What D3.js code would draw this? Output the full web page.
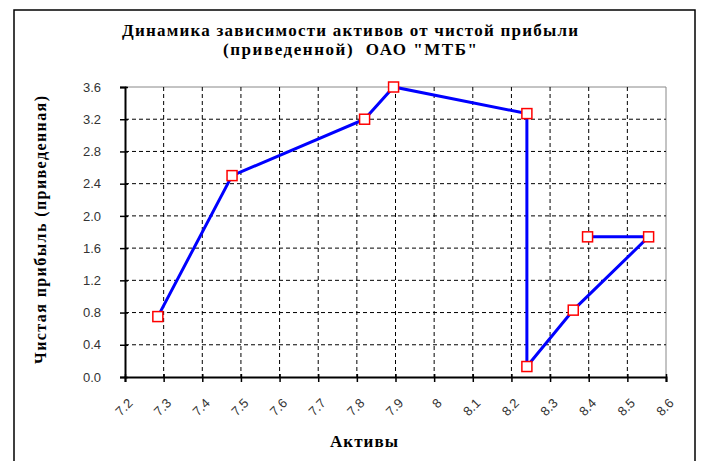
<!DOCTYPE html>
<html><head><meta charset="utf-8">
<script src="https://cdn.jsdelivr.net/npm/d3@7"></script>
<style>body{margin:0;background:#fff}svg{display:block}</style>
</head><body>
<svg id="c" width="704" height="461"></svg>
<script>
const assets = [7.285, 7.477, 7.82, 7.895, 8.24, 8.24, 8.36, 8.555, 8.397];
const profit = [0.75, 2.5, 3.2, 3.6, 3.27, 0.13, 0.83, 1.74, 1.74];
const xTicks = [7.2,7.3,7.4,7.5,7.6,7.7,7.8,7.9,8.0,8.1,8.2,8.3,8.4,8.5,8.6];
const yTicks = [0,0.4,0.8,1.2,1.6,2.0,2.4,2.8,3.2,3.6];
const titleLines = ["Динамика зависимости активов от чистой прибыли", "(приведенной)\u00a0 ОАО \"МТБ\""];
const xTitle = "Активы";
const yTitle = "Чистая прибыль (приведенная)";

const svg = d3.select("#c");
const L=125, R=666, T=87, B=377;
const x = d3.scaleLinear().domain([7.2,8.6]).range([L,R]);
const y = d3.scaleLinear().domain([0,3.6]).range([B,T]);

// outer frame
svg.append("rect").attr("x",14).attr("y",10).attr("width",681).attr("height",470)
  .attr("fill","none").attr("stroke","#000").attr("stroke-width",1.5);

// title
const serif = "'Liberation Serif','Times New Roman',serif";
const titleLens = [456, 254];
svg.append("g").selectAll("text").data(titleLines).join("text")
  .attr("x",350).attr("y",(d,i)=>36+i*19).attr("text-anchor","middle")
  .attr("font-family",serif).attr("font-weight","bold").attr("font-size",17)
  .attr("textLength",(d,i)=>titleLens[i]).attr("lengthAdjust","spacing")
  .text(d=>d);

// plot frame top/right
svg.append("path").attr("d",`M${L},${T}H${R}V${B}`).attr("fill","none").attr("stroke","#888").attr("stroke-width",1);

// grid
const g = svg.append("g");
g.selectAll("line.gx").data(xTicks.slice(1,-1)).join("line")
  .attr("x1",d=>x(d)).attr("x2",d=>x(d)).attr("y1",T).attr("y2",B)
  .attr("stroke","#000").attr("stroke-dasharray","4,3").attr("stroke-width",1);
g.selectAll("line.gy").data(yTicks.slice(1,-1)).join("line")
  .attr("y1",d=>y(d)).attr("y2",d=>y(d)).attr("x1",L).attr("x2",R)
  .attr("stroke","#000").attr("stroke-dasharray","4,3").attr("stroke-width",1);

// axes
const xAxis = svg.append("g").attr("transform",`translate(0,${B})`)
  .call(d3.axisBottom(x).tickValues(xTicks).tickSize(5).tickFormat(d=>d3.format("")(+d.toFixed(1))));
const yAxis = svg.append("g").attr("transform",`translate(${L},0)`)
  .call(d3.axisLeft(y).tickValues(yTicks).tickSize(5).tickFormat(d3.format(".1f")));
[xAxis,yAxis].forEach(a=>{
  a.select(".domain").attr("stroke","#000").attr("stroke-width",2);
  a.selectAll(".tick line").attr("stroke","#000").attr("stroke-width",1.5);
  a.selectAll("text").attr("font-family","'Liberation Sans',Arial,sans-serif").attr("font-size",13).attr("fill","#333");
});
xAxis.selectAll(".tick line").attr("y1",-3);
yAxis.selectAll(".tick line").attr("x1",3);
yAxis.selectAll("text").attr("x",-24);
xAxis.selectAll("text").attr("text-anchor","end").attr("dy",0).attr("y",0)
  .attr("transform","translate(8,27) rotate(-45)");

// axis titles
svg.append("text").attr("x",364).attr("y",447).attr("text-anchor","middle")
  .attr("font-family",serif).attr("font-weight","bold").attr("font-size",17)
  .attr("textLength",68).attr("lengthAdjust","spacing").text(xTitle);
svg.append("text").attr("transform","translate(46,230) rotate(-90)").attr("text-anchor","middle")
  .attr("font-family",serif).attr("font-weight","bold").attr("font-size",16)
  .attr("textLength",268).attr("lengthAdjust","spacing").text(yTitle);

// line
const pts = assets.map((a,i)=>[a,profit[i]]);
svg.append("path").datum(pts).attr("fill","none").attr("stroke","#0000FF").attr("stroke-width",3)
  .attr("d",d3.line().x(d=>x(d[0])).y(d=>y(d[1])));
svg.append("g").selectAll("rect").data(pts).join("rect")
  .attr("x",d=>x(d[0])-5).attr("y",d=>y(d[1])-5).attr("width",10).attr("height",10)
  .attr("fill","#fff").attr("stroke","#FF0000").attr("stroke-width",1.5);
</script>
</body></html>
